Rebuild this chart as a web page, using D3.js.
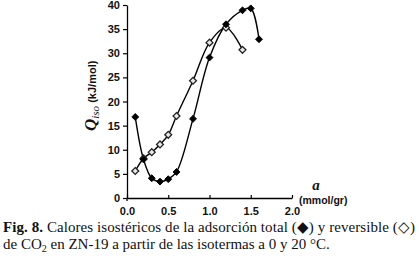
<!DOCTYPE html>
<html>
<head>
<meta charset="utf-8">
<script src="https://cdn.jsdelivr.net/npm/d3@7"></script>
<style>
  body { margin: 0; background: #fff; }
  svg { display: block; }
</style>
</head>
<body>
<div id="container"></div>
<script>
/* CONSTANTS AND GLOBALS */
const width = 419,
  height = 264,
  margin = { top: 5, bottom: 66, left: 127, right: 127 };

// data
const totalX = [0.1, 0.2, 0.3, 0.4, 0.5, 0.6, 0.8, 1.0, 1.2, 1.4, 1.5, 1.6];
const totalQ = [16.8, 8.0, 4.1, 3.4, 3.9, 5.4, 16.4, 29.1, 36.0, 38.9, 39.3, 32.9];
const revX = [0.1, 0.2, 0.3, 0.4, 0.5, 0.6, 0.8, 1.0, 1.2, 1.4];
const revQ = [5.6, 8.2, 9.5, 11.1, 13.1, 17.0, 24.3, 32.2, 35.3, 30.7];
const xTicks = [0, 0.5, 1.0, 1.5, 2.0];
const yTicks = [0, 5, 10, 15, 20, 25, 30, 35, 40];

const svg = d3.select("#container")
  .append("svg")
  .attr("width", width)
  .attr("height", height);

// SCALES
const x = d3.scaleLinear().domain([0, 2]).range([margin.left, 292]);
const y = d3.scaleLinear().domain([0, 40]).range([198, margin.top]);

// AXES
svg.append("g")
  .attr("transform", `translate(0, ${y(0)})`)
  .call(d3.axisBottom(x).tickValues(xTicks).tickFormat(d3.format(".1f")).tickSizeInner(-3).tickSizeOuter(0).tickPadding(9));

svg.append("g")
  .attr("transform", `translate(${x(0)}, 0)`)
  .call(d3.axisLeft(y).tickValues(yTicks).tickSizeInner(4).tickSizeOuter(0).tickPadding(3));

svg.selectAll(".domain").attr("stroke", "#000").attr("stroke-width", 1.3);
svg.selectAll(".tick line").attr("stroke", "#000").attr("stroke-width", 1.2);
svg.selectAll(".tick text")
  .attr("fill", "#111")
  .style("font-family", "Liberation Sans, Arial, sans-serif")
  .style("font-weight", "bold")
  .style("font-size", "11px");

// small stub of y axis below the x axis
svg.append("line")
  .attr("x1", x(0)).attr("x2", x(0))
  .attr("y1", y(0)).attr("y2", y(0) + 3)
  .attr("stroke", "#000").attr("stroke-width", 1.3);

// LINES
const line = d3.line()
  .x(d => x(d[0]))
  .y(d => y(d[1]))
  .curve(d3.curveCatmullRom.alpha(0.5));

const totalData = totalX.map((v, i) => [v, totalQ[i]]);
const revData = revX.map((v, i) => [v, revQ[i]]);

svg.append("path")
  .datum(revData)
  .attr("fill", "none")
  .attr("stroke", "#000")
  .attr("stroke-width", 1.4)
  .attr("d", line);

svg.append("path")
  .datum(totalData)
  .attr("fill", "none")
  .attr("stroke", "#000")
  .attr("stroke-width", 1.4)
  .attr("d", line);

// MARKERS
const diamond = d3.symbol().type(d3.symbolDiamond2).size(30);

svg.selectAll("path.rev")
  .data(revData)
  .join("path")
  .attr("class", "rev")
  .attr("d", diamond)
  .attr("fill", "#e8e8e8")
  .attr("stroke", "#222")
  .attr("stroke-width", 1.3)
  .attr("transform", d => `translate(${x(d[0])}, ${y(d[1])})`);

svg.selectAll("path.total")
  .data(totalData)
  .join("path")
  .attr("class", "total")
  .attr("d", diamond)
  .attr("fill", "#000")
  .attr("stroke", "#000")
  .attr("stroke-width", 1)
  .attr("transform", d => `translate(${x(d[0])}, ${y(d[1])})`);

// AXIS LABELS
const yLabel = svg.append("text")
  .attr("transform", "translate(96, 131) rotate(-90)")
  .attr("fill", "#111");
yLabel.append("tspan")
  .style("font-family", "Liberation Serif, serif")
  .style("font-style", "italic")
  .style("font-weight", "bold")
  .style("font-size", "17px")
  .text("Q");
yLabel.append("tspan")
  .attr("dy", 3)
  .style("font-family", "Liberation Serif, serif")
  .style("font-style", "italic")
  .style("font-size", "11px")
  .text("iso");
yLabel.append("tspan")
  .attr("dy", -3)
  .style("font-family", "Liberation Sans, Arial, sans-serif")
  .style("font-weight", "bold")
  .style("font-size", "11px")
  .text(" (kJ/mol)");

svg.append("text")
  .attr("x", 316).attr("y", 190)
  .attr("text-anchor", "middle")
  .attr("fill", "#111")
  .style("font-family", "Liberation Serif, serif")
  .style("font-style", "italic")
  .style("font-weight", "bold")
  .style("font-size", "15px")
  .text("a");

svg.append("text")
  .attr("x", 299).attr("y", 204)
  .attr("fill", "#111")
  .style("font-family", "Liberation Sans, Arial, sans-serif")
  .style("font-weight", "bold")
  .style("font-size", "10.5px")
  .text("(mmol/gr)");

// CAPTION
const cap = svg.append("g")
  .style("font-family", "Liberation Serif, 'Times New Roman', serif")
  .style("font-size", "15px")
  .attr("fill", "#111");

const line1 = cap.append("text").attr("x", 3).attr("y", 232)
  .attr("textLength", 412).attr("lengthAdjust", "spacing");
line1.append("tspan").style("font-weight", "bold").text("Fig. 8.");
line1.append("tspan").text(" Calores isostéricos de la adsorción total (\u25C6) y reversible (\u25C7)");

const line2 = cap.append("text").attr("x", 3).attr("y", 249);
line2.append("tspan").text("de CO");
line2.append("tspan").attr("dy", 3).style("font-size", "10px").text("2");
line2.append("tspan").attr("dy", -3).text(" en ZN-19 a partir de las isotermas a 0 y 20 °C.");
</script>
</body>
</html>
